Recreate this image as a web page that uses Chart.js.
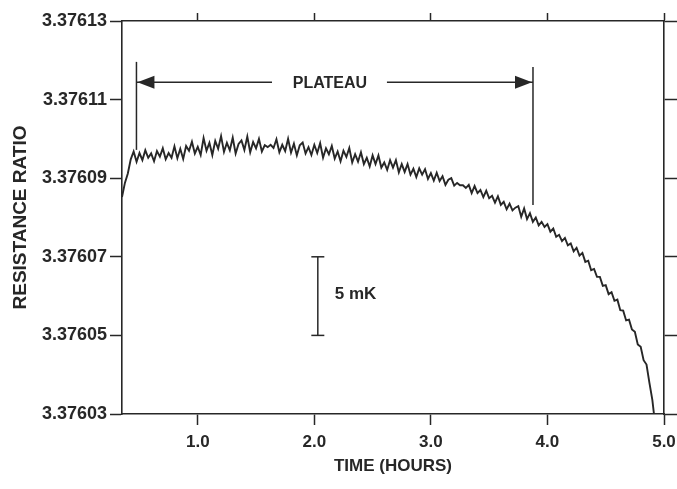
<!DOCTYPE html>
<html>
<head>
<meta charset="utf-8">
<script src="https://cdn.jsdelivr.net/npm/chart.js@4/dist/chart.umd.min.js"></script>
<style>
  html, body { margin: 0; padding: 0; background: #ffffff; }
  #wrap { width: 677px; height: 489px; }
</style>
</head>
<body>
<div id="wrap"><canvas id="c" width="677" height="489"></canvas></div>
<script>
// ---- data ----
const times = [
  0.35,0.375,0.4,0.425,0.45,0.475,0.5,0.525,0.55,0.575,
  0.6,0.625,0.65,0.675,0.7,0.725,0.75,0.775,0.8,0.825,
  0.85,0.875,0.9,0.925,0.95,0.975,1.0,1.025,1.05,1.075,
  1.1,1.125,1.15,1.175,1.2,1.225,1.25,1.275,1.3,1.325,
  1.35,1.375,1.4,1.425,1.45,1.475,1.5,1.525,1.55,1.575,
  1.6,1.625,1.65,1.675,1.7,1.725,1.75,1.775,1.8,1.825,
  1.85,1.875,1.9,1.925,1.95,1.975,2.0,2.025,2.05,2.075,
  2.1,2.125,2.15,2.175,2.2,2.225,2.25,2.275,2.3,2.325,
  2.35,2.375,2.4,2.425,2.45,2.475,2.5,2.525,2.55,2.575,
  2.6,2.625,2.65,2.675,2.7,2.725,2.75,2.775,2.8,2.825,
  2.85,2.875,2.9,2.925,2.95,2.975,3.0,3.025,3.05,3.075,
  3.1,3.125,3.15,3.175,3.2,3.225,3.25,3.275,3.3,3.325,
  3.35,3.375,3.4,3.425,3.45,3.475,3.5,3.525,3.55,3.575,
  3.6,3.625,3.65,3.675,3.7,3.725,3.75,3.775,3.8,3.825,
  3.85,3.875,3.9,3.925,3.95,3.975,4.0,4.025,4.05,4.075,
  4.1,4.125,4.15,4.175,4.2,4.225,4.25,4.275,4.3,4.325,
  4.35,4.375,4.4,4.425,4.45,4.475,4.5,4.525,4.55,4.575,
  4.6,4.625,4.65,4.675,4.7,4.725,4.75,4.775,4.8,4.825,
  4.85,4.875,4.9,4.914
];
const ratios = [
  3.3760852,3.3760888,3.3760912,3.3760948,3.3760968,3.3760942,3.3760964,3.3760946,3.3760971,3.3760952,
  3.3760963,3.3760943,3.3760969,3.3760955,3.3760976,3.3760948,3.3760964,3.3760952,3.3760981,3.3760951,
  3.3760975,3.3760949,3.3760982,3.3760970,3.3760993,3.3760963,3.3760980,3.3760959,3.3761002,3.3760970,
  3.3760990,3.3760959,3.3760995,3.3760975,3.3761007,3.3760967,3.3760990,3.3760971,3.3761003,3.3760963,
  3.3760987,3.3760996,3.3760972,3.3761006,3.3760966,3.3760992,3.3760976,3.3761000,3.3760968,3.3760984,
  3.3760979,3.3760985,3.3760977,3.3760999,3.3760966,3.3760985,3.3760969,3.3761000,3.3760965,3.3760988,
  3.3760958,3.3760984,3.3760991,3.3760963,3.3760979,3.3760959,3.3760985,3.3760964,3.3760989,3.3760952,
  3.3760976,3.3760961,3.3760982,3.3760950,3.3760968,3.3760943,3.3760970,3.3760954,3.3760977,3.3760940,
  3.3760961,3.3760942,3.3760966,3.3760936,3.3760952,3.3760930,3.3760958,3.3760936,3.3760958,3.3760927,
  3.3760940,3.3760921,3.3760946,3.3760927,3.3760946,3.3760915,3.3760936,3.3760916,3.3760936,3.3760909,
  3.3760924,3.3760903,3.3760925,3.3760909,3.3760923,3.3760898,3.3760913,3.3760894,3.3760914,3.3760893,
  3.3760905,3.3760883,3.3760896,3.3760900,3.3760881,3.3760888,3.3760882,3.3760882,3.3760875,3.3760883,
  3.3760862,3.3760880,3.3760862,3.3760870,3.3760852,3.3760868,3.3760849,3.3760855,3.3760838,3.3760854,
  3.3760832,3.3760840,3.3760821,3.3760835,3.3760818,3.3760825,3.3760829,3.3760802,3.3760823,3.3760796,
  3.3760811,3.3760789,3.3760800,3.3760780,3.3760789,3.3760776,3.3760783,3.3760764,3.3760772,3.3760751,
  3.3760756,3.3760740,3.3760748,3.3760729,3.3760734,3.3760714,3.3760723,3.3760703,3.3760710,3.3760687,
  3.3760690,3.3760666,3.3760669,3.3760649,3.3760649,3.3760626,3.3760628,3.3760605,3.3760610,3.3760588,
  3.3760591,3.3760564,3.3760563,3.3760538,3.3760540,3.3760515,3.3760509,3.3760477,3.3760471,3.3760437,
  3.3760426,3.3760379,3.3760336,3.3760300
];

const xRange = [0.35, 5.0];
const yRange = [3.37603, 3.37613];
const xTickValues = [1.0, 2.0, 3.0, 4.0, 5.0];
const xTickLabels = ['1.0', '2.0', '3.0', '4.0', '5.0'];
const yTickValues = [3.37603, 3.37605, 3.37607, 3.37609, 3.37611, 3.37613];
const yTickLabels = ['3.37603', '3.37605', '3.37607', '3.37609', '3.37611', '3.37613'];
const xTitle = 'TIME (HOURS)';
const yTitle = 'RESISTANCE RATIO';

// annotation anchors, in data units
const plateauLabel = 'PLATEAU';
const plateauStartTime = 0.474;
const plateauEndTime = 3.876;
const plateauStartMarker = [3.3761196, 3.3760972];
const plateauEndMarker = [3.3761183, 3.3760832];
const plateauArrowLevel = 3.3761144;
const plateauLabelTime = 2.134;
const plateauGap = [1.637, 2.623];
const scaleBarLabel = '5 mK';
const scaleBarTime = 2.03;
const scaleBarRange = [3.37605, 3.37607];

// ---- styling ----
const INK = '#272727';
const FONT = "'Liberation Sans', Arial, Helvetica, sans-serif";

const annotate = {
  id: 'annotate',
  afterDatasetsDraw(chart) {
    const ctx = chart.ctx;
    const xs = chart.scales.x, ys = chart.scales.y;
    const px = v => xs.getPixelForValue(v);
    const py = v => ys.getPixelForValue(v);
    ctx.save();
    ctx.strokeStyle = INK;
    ctx.fillStyle = INK;
    ctx.lineWidth = 1.5;
    ctx.lineCap = 'butt';
    const seg = (x1, y1, x2, y2) => { ctx.beginPath(); ctx.moveTo(x1, y1); ctx.lineTo(x2, y2); ctx.stroke(); };

    // plateau markers
    const xa = px(plateauStartTime), xb = px(plateauEndTime);
    seg(xa, py(plateauStartMarker[0]), xa, py(plateauStartMarker[1]));
    seg(xb, py(plateauEndMarker[0]), xb, py(plateauEndMarker[1]));
    const ay = py(plateauArrowLevel);
    seg(xa, ay, px(plateauGap[0]), ay);
    seg(px(plateauGap[1]), ay, xb, ay);
    const head = 17, half = 6.5;
    ctx.beginPath(); ctx.moveTo(xa + 1, ay); ctx.lineTo(xa + 1 + head, ay - half); ctx.lineTo(xa + 1 + head, ay + half); ctx.closePath(); ctx.fill();
    ctx.beginPath(); ctx.moveTo(xb - 1, ay); ctx.lineTo(xb - 1 - head, ay - half); ctx.lineTo(xb - 1 - head, ay + half); ctx.closePath(); ctx.fill();
    ctx.font = 'bold 16px ' + FONT;
    ctx.textAlign = 'center';
    ctx.textBaseline = 'middle';
    ctx.fillText(plateauLabel, px(plateauLabelTime), ay + 1);

    // scale bar
    const sx = px(scaleBarTime);
    const s1 = py(scaleBarRange[0]), s2 = py(scaleBarRange[1]);
    seg(sx, s1, sx, s2);
    seg(sx - 6.5, s1, sx + 6.5, s1);
    seg(sx - 6.5, s2, sx + 6.5, s2);
    ctx.font = 'bold 17px ' + FONT;
    ctx.textAlign = 'left';
    ctx.fillText(scaleBarLabel, sx + 17, (s1 + s2) / 2 - 2);
    ctx.restore();
  }
};

const setTicks = values => scale => { scale.ticks = values.map(v => ({ value: v })); };
const fixBox = (w, h) => s => {
  if (w !== null) s.width = w;
  if (h !== null) s.height = h;
  s.paddingLeft = 0; s.paddingRight = 0; s.paddingTop = 0; s.paddingBottom = 0;
};

const chart = new Chart(document.getElementById('c'), {
  type: 'line',
  data: {
    datasets: [{
      data: times.map((t, i) => ({ x: t, y: ratios[i] })),
      borderColor: INK,
      borderWidth: 1.9,
      pointRadius: 0,
      tension: 0,
      fill: false
    }]
  },
  options: {
    responsive: false,
    animation: false,
    devicePixelRatio: 1,
    layout: { padding: 0 },
    plugins: { legend: { display: false }, tooltip: { enabled: false }, title: { display: false } },
    scales: {
      x: {
        type: 'linear', position: 'bottom', min: xRange[0], max: xRange[1],
        afterBuildTicks: setTicks(xTickValues),
        afterFit: fixBox(null, 75),
        ticks: {
          autoSkip: false, maxRotation: 0, padding: 7, color: INK,
          font: { family: FONT, size: 17, weight: 'bold' },
          callback: v => xTickLabels[xTickValues.indexOf(v)]
        },
        grid: { drawOnChartArea: false, drawTicks: true, tickLength: 11, tickWidth: 1.5, tickColor: INK },
        border: { display: true, color: INK, width: 1.6 },
        title: { display: true, text: xTitle, color: INK, font: { family: FONT, size: 17, weight: 'bold' }, padding: { top: 0, bottom: 12 } }
      },
      x2: {
        type: 'linear', position: 'top', min: xRange[0], max: xRange[1],
        afterBuildTicks: setTicks(xTickValues),
        afterFit: fixBox(null, 21),
        ticks: { display: false },
        grid: { drawOnChartArea: false, drawTicks: true, tickLength: 8, tickWidth: 1.5, tickColor: INK },
        border: { display: true, color: INK, width: 1.6 }
      },
      y: {
        type: 'linear', position: 'left', min: yRange[0], max: yRange[1],
        afterBuildTicks: setTicks(yTickValues),
        afterFit: fixBox(122, null),
        ticks: {
          autoSkip: false, padding: 3, color: INK,
          font: { family: FONT, size: 18, weight: 'bold' },
          callback: v => yTickLabels[yTickValues.indexOf(v)]
        },
        grid: { drawOnChartArea: false, drawTicks: true, tickLength: 12, tickWidth: 1.5, tickColor: INK },
        border: { display: true, color: INK, width: 1.6 },
        title: { display: true, text: yTitle, color: INK, font: { family: FONT, size: 19, weight: 'bold' }, padding: { top: 9, bottom: 0 } }
      },
      y2: {
        type: 'linear', position: 'right', min: yRange[0], max: yRange[1],
        afterBuildTicks: setTicks(yTickValues),
        afterFit: fixBox(13, null),
        ticks: { display: false },
        grid: { drawOnChartArea: false, drawTicks: true, tickLength: 13, tickWidth: 1.5, tickColor: INK },
        border: { display: true, color: INK, width: 1.6 }
      }
    }
  },
  plugins: [annotate]
});
</script>
</body>
</html>
